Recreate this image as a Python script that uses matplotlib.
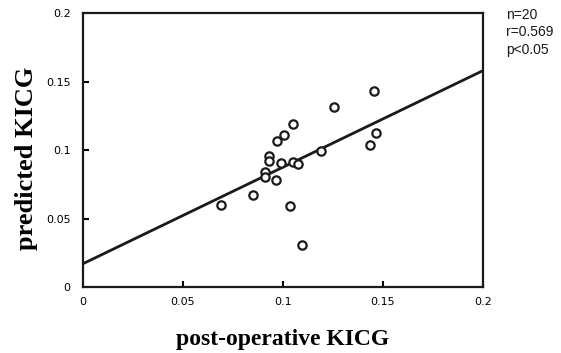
import numpy as np
import matplotlib.pyplot as plt

# post-operative KICG (x) vs predicted KICG (y)
post_op = [0.1457, 0.1255, 0.1052, 0.1005, 0.0970, 0.1464, 0.1435, 0.1192, 0.0932, 0.0932,
           0.0990, 0.1052, 0.1077, 0.0910, 0.0910, 0.0964, 0.0852, 0.0690, 0.1035, 0.1097]
predicted = [0.1428, 0.1312, 0.1188, 0.1107, 0.1068, 0.1126, 0.1039, 0.0993, 0.0956, 0.0922,
             0.0907, 0.0915, 0.0900, 0.0837, 0.0805, 0.0779, 0.0675, 0.0597, 0.0588, 0.0304]

# regression line end points
line_x = [0.0, 0.2]
line_y = [0.017, 0.158]

ticks = [0, 0.05, 0.1, 0.15, 0.2]
tick_labels = ['0', '0.05', '0.1', '0.15', '0.2']

fig = plt.figure(figsize=(5.61, 3.53), dpi=100)
ax = fig.add_axes([0.148, 0.187, 0.713, 0.776])

ax.plot(line_x, line_y, color='#1a1a1a', lw=2)
ax.plot(post_op, predicted, 'o', mfc='white', mec='#1a1a1a', ms=6, mew=1.6)

ax.set_xlim(0, 0.2)
ax.set_ylim(0, 0.2)
ax.set_xticks(ticks)
ax.set_xticklabels(tick_labels)
ax.set_yticks(ticks)
ax.set_yticklabels(tick_labels)
ax.tick_params(direction='in', length=4, width=1.5, labelsize=8, top=False, right=False)
ax.tick_params(axis='x', pad=7)
ax.tick_params(axis='y', pad=9)
for s in ax.spines.values():
    s.set_linewidth(1.6)
    s.set_color('#1a1a1a')

ax.set_xlabel('post-operative KICG', family='Liberation Serif', weight='bold', fontsize=17, va='center')
ax.set_ylabel('predicted KICG', family='Liberation Serif', weight='bold', fontsize=19, va='center')
ax.xaxis.set_label_coords(0.5, -0.19)
ax.yaxis.set_label_coords(-0.142, 0.47)

fig.text(0.902, 0.977, 'n=20\nr=0.569\np<0.05', family='Liberation Sans', fontsize=10,
         va='top', ha='left', linespacing=1.3, color='#1a1a1a')

plt.savefig('out.png', dpi=100)
